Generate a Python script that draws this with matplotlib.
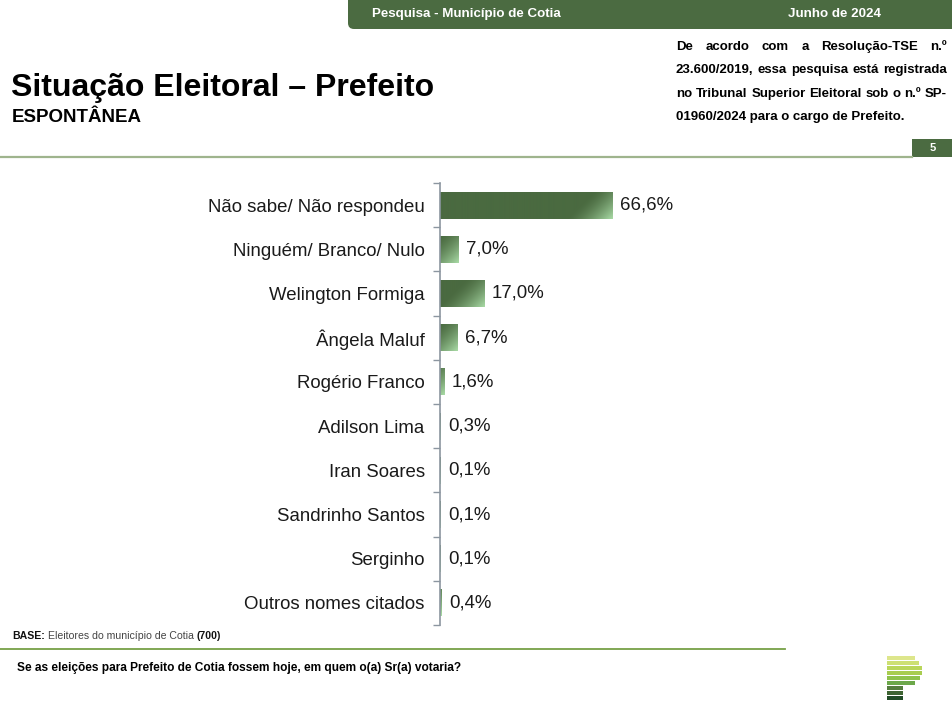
import numpy as np
import matplotlib
matplotlib.use("Agg")
import matplotlib.pyplot as plt
from matplotlib.patches import FancyBboxPatch, Rectangle
from matplotlib.colors import to_rgb

# ── data ──────────────────────────────────────────────
categories = [
    "Não sabe/ Não respondeu",
    "Ninguém/ Branco/ Nulo",
    "Welington Formiga",
    "Ângela Maluf",
    "Rogério Franco",
    "Adilson Lima",
    "Iran Soares",
    "Sandrinho Santos",
    "Serginho",
    "Outros nomes citados",
]
values = [66.6, 7.0, 17.0, 6.7, 1.6, 0.3, 0.1, 0.1, 0.1, 0.4]

header_left = "Pesquisa - Município de Cotia"
header_right = "Junho de 2024"
title = "Situação Eleitoral – Prefeito"
subtitle = "ESPONTÂNEA"
note_lines = [
    "De acordo com a Resolução-TSE n.º",
    "23.600/2019, essa pesquisa está registrada",
    "no Tribunal Superior Eleitoral sob o n.º SP-",
    "01960/2024 para o cargo de Prefeito.",
]
page_no = "5"
base_parts = [("BASE:", "bold"), ("Eleitores do município de Cotia", "normal"), ("(700)", "bold")]
question = "Se as eleições para Prefeito de Cotia fossem hoje, em quem o(a) Sr(a) votaria?"

plt.rcParams["font.family"] = ["Liberation Sans", "DejaVu Sans"]

W, H = 952, 702
GREEN = "#4b6b41"
DARK = np.array(to_rgb("#4a6a40"))
LIGHT = np.array(to_rgb("#a9dba6"))

fig = plt.figure(figsize=(W / 100, H / 100), dpi=100)
fig.canvas.draw()
rend = fig.canvas.get_renderer()

# background axes in pixel coordinates for the page decoration
bg = fig.add_axes([0, 0, 1, 1])
bg.set_xlim(0, W)
bg.set_ylim(H, 0)
bg.axis("off")


def width_of(artist):
    return artist.get_window_extent(rend).width


# header band
bg.add_patch(FancyBboxPatch((348, -20), 640, 49, boxstyle="round,pad=0,rounding_size=6",
                            fc=GREEN, ec="none"))
bg.text(372, 14, header_left, color="white", fontsize=9.6, fontweight="bold", va="center")
bg.text(788, 14, header_right, color="white", fontsize=9.6, fontweight="bold", va="center")

# title block
bg.text(11, 88, title, fontsize=23, fontweight="bold", va="center")
bg.text(12, 117, subtitle, fontsize=13.5, fontweight="bold", va="center")

# justified note on the right, font sized so the second line fills the column
x0, x1 = 676, 947
probe = bg.text(0, 0, note_lines[1], fontsize=10, fontweight="bold")
note_fs = 10 * (x1 - x0) / width_of(probe)
probe.remove()
for k, line in enumerate(note_lines):
    y = 47 + k * 23.3
    words = line.split(" ")
    if k == len(note_lines) - 1:
        bg.text(x0, y, line, fontsize=note_fs, fontweight="bold", va="center")
        continue
    arts = [bg.text(0, y, w, fontsize=note_fs, fontweight="bold", va="center") for w in words]
    widths = [width_of(a) for a in arts]
    gap = (x1 - x0 - sum(widths)) / (len(words) - 1)
    xc = x0
    for a, w in zip(arts, widths):
        a.set_x(xc)
        xc += w + gap

# page number + separator
bg.add_patch(Rectangle((912, 139), 45, 18, fc=GREEN, ec="none"))
bg.text(933, 148, page_no, color="white", fontsize=8, fontweight="bold",
        ha="center", va="center")
bg.plot([0, 912], [157, 157], color="#9fb48d", lw=1.6)

# footer
xc = 12
for txt, wt in base_parts:
    a = bg.text(xc, 636, txt, fontsize=7.6, fontweight=wt, va="center",
                color="#111111" if wt == "bold" else "#444444")
    xc += width_of(a) + 3
bg.plot([0, 785], [649, 649], color="#76a046", lw=1.3)
bg.text(17, 668, question, fontsize=8.6, fontweight="bold", va="center")

# logo stripes
logo_colors = ["#dde68c", "#cde073", "#b9d65a", "#a8cd4f", "#8fc24b",
               "#6ca84a", "#557d3f", "#3e6433", "#214b27"]
logo_right = [915, 919, 922, 922, 920, 915, 903, 903, 903]
for i, (c, r) in enumerate(zip(logo_colors, logo_right)):
    bg.add_patch(Rectangle((886.5, 655.5 + i * 5.1), r - 886.5, 4, fc=c, ec="none"))

# ── bar chart ─────────────────────────────────────────
ax_left, ax_top, ax_bot, ax_w = 440, 183, 625, 259
ax = fig.add_axes([ax_left / W, 1 - ax_bot / H, ax_w / W, (ax_bot - ax_top) / H])
ax.set_facecolor("none")
n = len(categories)
ypos = np.arange(n)
bh = 0.61
px_per_unit = ax_w / 100.0
bar_px_h = bh * (ax_bot - ax_top) / n

for y, v in zip(ypos, values):
    wpx = max(v * px_per_unit, 1)
    nx = max(int(round(wpx)) * 2, 2)
    ny = int(round(bar_px_h)) * 2
    xs = np.linspace(0, wpx, nx)
    ys = np.linspace(0, bar_px_h, ny)
    XX, YY = np.meshgrid(xs, ys)
    d = (wpx - XX) + (bar_px_h - YY)  # distance from bottom-right corner
    t = np.clip(1 - d / 46.0, 0, 1) ** 1.5
    img = DARK[None, None, :] * (1 - t[..., None]) + LIGHT[None, None, :] * t[..., None]
    ax.imshow(img, extent=(0, v, y + bh / 2, y - bh / 2), aspect="auto",
              interpolation="bilinear", origin="upper", zorder=2)
    ax.text(v + 3.0, y, f"{v:.1f}%".replace(".", ","), fontsize=13.4,
            va="center", ha="left", color="#1a1a1a")

ax.set_xlim(0, 100)
ax.set_ylim(n - 0.5, -0.5)
ax.set_yticks(ypos)
ax.set_yticklabels(categories, fontsize=13.4, color="#1a1a1a")
ax.set_yticks(np.arange(-0.5, n), minor=True)
ax.tick_params(axis="y", which="major", length=0, pad=11)
ax.tick_params(axis="y", which="minor", length=5, width=1, color="#8c96a0", direction="out")
ax.set_xticks([])
for s in ["top", "right", "bottom"]:
    ax.spines[s].set_visible(False)
ax.spines["left"].set_color("#8c96a0")
ax.spines["left"].set_linewidth(1.2)

fig.savefig("out.png", dpi=100)
